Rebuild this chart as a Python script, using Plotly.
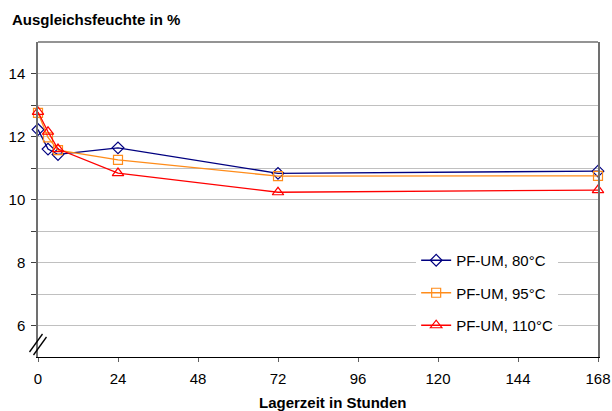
import plotly.graph_objects as go

hours = [0, 3, 6, 24, 72, 168]
pf_80 = [12.22, 11.6, 11.43, 11.64, 10.83, 10.9]
pf_95 = [12.75, 11.97, 11.57, 11.26, 10.74, 10.75]
pf_110 = [12.78, 12.15, 11.6, 10.84, 10.23, 10.3]

names = ["PF-UM, 80°C", "PF-UM, 95°C", "PF-UM, 110°C"]
colors = ["#000080", "#FF8C1A", "#FF0000"]
symbols = ["diamond-open", "square-open", "triangle-up-open"]
sizes = [9, 9, 10]

x_ticks = [0, 24, 48, 72, 96, 120, 144, 168]
y_ticks = [6, 8, 10, 12, 14]

W, H = 612, 411
L, R, T, B = 37.5, 14, 42, 54
pw, ph = W - L - R, H - T - B

fig = go.Figure()
for i, ys in enumerate([pf_80, pf_95, pf_110]):
    fig.add_trace(go.Scatter(
        x=hours, y=ys, mode="lines+markers", name=names[i],
        legendgroup=f"g{i}",
        line=dict(color=colors[i], width=1.3),
        marker=dict(symbol=symbols[i], size=sizes[i], color=colors[i],
                    line=dict(width=1.2, color=colors[i])),
        cliponaxis=False,
    ))

def px(xp):
    return (xp - L) / pw

def py(yp):
    return (H - B - yp) / ph

shapes = [
    dict(type="line", xref="paper", yref="paper", x0=0, x1=1, y0=1, y1=1,
         line=dict(color="#707070", width=1.5)),
    dict(type="line", xref="paper", yref="paper", x0=px(29), y0=py(352), x1=px(42), y1=py(334),
         line=dict(color="black", width=1.3)),
    dict(type="line", xref="paper", yref="paper", x0=px(33), y0=py(355), x1=px(46), y1=py(337),
         line=dict(color="black", width=1.3)),
]

fig.update_layout(
    width=W, height=H,
    margin=dict(l=L, r=R, t=T, b=B, autoexpand=False),
    paper_bgcolor="white", plot_bgcolor="white",
    font=dict(family="Liberation Sans, Arial, sans-serif", size=15, color="black"),
    showlegend=True,
    legend=dict(x=px(416), y=py(244), xanchor="left", yanchor="top",
                bgcolor="white", borderwidth=0, tracegroupgap=10,
                traceorder="grouped", font=dict(size=15)),
    shapes=shapes,
    annotations=[
        dict(text="<b>Ausgleichsfeuchte in %</b>", xref="paper", yref="paper",
             x=px(9), y=py(19), xanchor="left", yanchor="middle", showarrow=False,
             font=dict(size=15)),
        dict(text="<b>Lagerzeit in Stunden</b>", xref="paper", yref="paper",
             x=px(333), y=py(402), xanchor="center", yanchor="middle", showarrow=False,
             font=dict(size=15)),
    ],
)

fig.update_xaxes(
    range=[0, 168], tickvals=x_ticks, ticktext=[str(v) for v in x_ticks],
    showline=True, linecolor="black", linewidth=1.3,
    ticks="outside", ticklen=4, tickcolor="#606060",
    tickfont=dict(size=15), ticklabelstandoff=4,
    showgrid=False, zeroline=False, automargin=False,
)
fig.update_yaxes(
    range=[5, 15], tickvals=y_ticks, ticktext=[str(v) for v in y_ticks],
    showline=True, linecolor="#707070", linewidth=1.5, mirror=True,
    ticks="outside", ticklen=5, tickcolor="#404040",
    tickfont=dict(size=15), ticklabelstandoff=3,
    showgrid=True, gridcolor="#C0C0C0", gridwidth=1, zeroline=False, automargin=False,
    minor=dict(tickvals=[7, 9, 11, 13], ticks="outside", ticklen=5, tickcolor="#404040",
               showgrid=True, gridcolor="#C0C0C0", gridwidth=1),
)

fig.write_html(
    "out.html",
    config={"displayModeBar": False},
    post_script="document.body.style.margin='0';document.body.style.overflow='hidden';",
)
